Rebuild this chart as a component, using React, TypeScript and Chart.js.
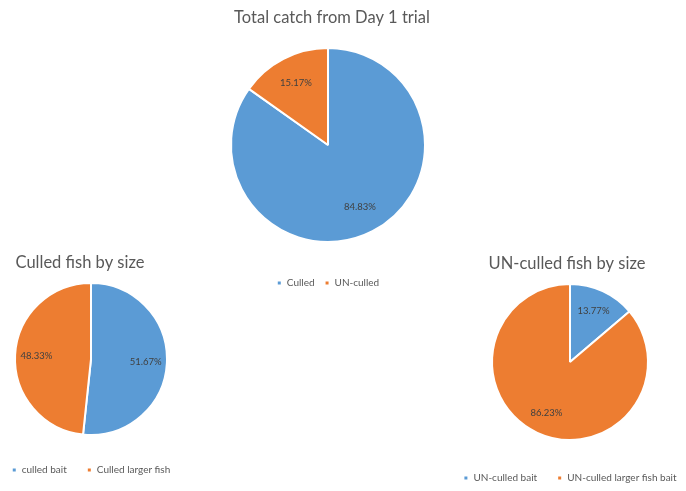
import React, { useEffect, useRef } from "react";
import { Chart, registerables } from "chart.js";
Chart.register(...registerables);

const totalLabels = ["Culled", "UN-culled"];
const totalValues = [84.83, 15.17];
const culledLabels = ["culled bait", "Culled larger fish"];
const culledValues = [51.67, 48.33];
const unculledLabels = ["UN-culled bait", "UN-culled larger fish bait"];
const unculledValues = [13.77, 86.23];

const BLUE = "#5B9BD5";
const ORANGE = "#ED7D31";
const FONT = "Lato, 'Open Sans', sans-serif";
const LEGEND_FONT = 10;

const pctPlugin = {
  id: "pctLabels",
  afterDatasetsDraw(chart: any) {
    const ctx = chart.ctx;
    const meta = chart.getDatasetMeta(0);
    const data = chart.data.datasets[0].data as number[];
    const frac = 0.72;
    ctx.save();
    ctx.font = `9.5px ${FONT}`;
    ctx.fillStyle = "#404040";
    ctx.textAlign = "center";
    ctx.textBaseline = "middle";
    meta.data.forEach((arc: any, i: number) => {
      const p = arc.getProps(["x", "y", "startAngle", "endAngle", "outerRadius"], true);
      const mid = (p.startAngle + p.endAngle) / 2;
      const r = p.outerRadius * frac;
      ctx.fillText(data[i].toFixed(2) + "%", p.x + Math.cos(mid) * r, p.y + Math.sin(mid) * r);
    });
    ctx.restore();
  },
};

const headPlugin = {
  id: "headTitle",
  afterDraw(chart: any) {
    const o = chart.options.plugins.headTitle;
    if (!o) return;
    const ctx = chart.ctx;
    ctx.save();
    ctx.font = `16.5px ${FONT}`;
    ctx.fillStyle = "#595959";
    ctx.textAlign = "center";
    ctx.textBaseline = "middle";
    ctx.fillText(o.text, chart.width / 2 + o.dx, o.y);
    ctx.restore();
  },
};

function PieChart(props: {
  labels: string[];
  values: number[];
  title: string;
  titleDx: number;
  left: number;
  top: number;
  width: number;
  titleY: number;
  cy: number;
  radius: number;
  legendY: number;
  gap: number;
}) {
  const ref = useRef<HTMLCanvasElement>(null);
  const half = LEGEND_FONT / 2;
  const legendTop = props.legendY - half - props.gap;
  const T = 2 * props.cy - legendTop;
  const height = Math.round(props.legendY + half + 10 - props.top);
  useEffect(() => {
    const chart = new Chart(ref.current!, {
      type: "pie",
      data: {
        labels: props.labels,
        datasets: [
          {
            data: props.values,
            backgroundColor: [BLUE, ORANGE],
            borderColor: "#ffffff",
            borderWidth: 2,
            radius: props.radius,
          } as any,
        ],
      },
      options: {
        responsive: false,
        animation: false,
        layout: { padding: { top: T - props.top, left: 0, right: 0, bottom: 0 } },
        plugins: {
          title: { display: false },
          headTitle: { text: props.title, dx: props.titleDx, y: props.titleY - props.top },
          legend: {
            position: "bottom",
            labels: {
              usePointStyle: true,
              pointStyle: "rect",
              boxWidth: 5,
              boxHeight: 5,
              padding: props.gap,
              color: "#595959",
              font: { family: FONT, size: LEGEND_FONT },
            },
          },
          tooltip: { enabled: false },
        } as any,
      },
      plugins: [pctPlugin, headPlugin],
    });
    return () => chart.destroy();
  }, []);
  return (
    <canvas
      ref={ref}
      width={props.width}
      height={height}
      style={{ position: "absolute", left: props.left, top: props.top, width: props.width, height }}
    />
  );
}

export default function App() {
  return (
    <div style={{ position: "absolute", left: 0, top: 0, width: 686, height: 491, background: "#fff", overflow: "hidden" }}>
      <PieChart
        labels={totalLabels}
        values={totalValues}
        title="Total catch from Day 1 trial"
        titleDx={4}
        left={198}
        top={0}
        width={260}
        titleY={18}
        cy={145}
        radius={97}
        legendY={283}
        gap={10}
      />
      <PieChart
        labels={culledLabels}
        values={culledValues}
        title="Culled fish by size"
        titleDx={-11}
        left={-39}
        top={246}
        width={260}
        titleY={263}
        cy={359}
        radius={76}
        legendY={470}
        gap={20}
      />
      <PieChart
        labels={unculledLabels}
        values={unculledValues}
        title="UN-culled fish by size"
        titleDx={-3}
        left={430}
        top={246}
        width={280}
        titleY={264}
        cy={362}
        radius={78}
        legendY={478}
        gap={20}
      />
    </div>
  );
}
